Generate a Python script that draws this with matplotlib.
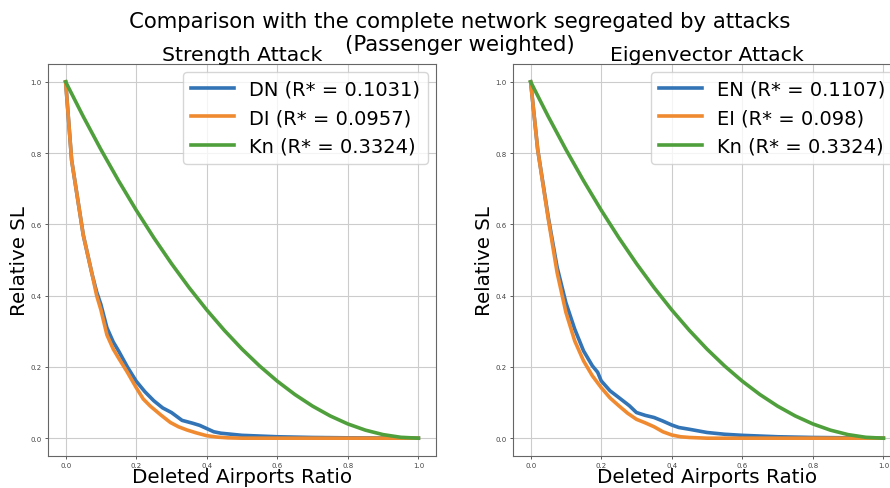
import matplotlib
matplotlib.use("Agg")
import matplotlib.pyplot as plt

# ---- data ----
x_dn = [0.0, 0.017, 0.05, 0.075, 0.088, 0.1, 0.117, 0.135, 0.15, 0.175, 0.2, 0.225, 0.25, 0.275, 0.3, 0.33, 0.36, 0.38, 0.4, 0.42, 0.44, 0.47, 0.5, 0.55, 0.6, 0.7, 0.8, 0.9, 1.0]
y_dn = [1.0, 0.78, 0.57, 0.46, 0.41, 0.375, 0.31, 0.27, 0.245, 0.20, 0.16, 0.13, 0.105, 0.085, 0.072, 0.05, 0.042, 0.036, 0.027, 0.018, 0.014, 0.011, 0.008, 0.006, 0.004, 0.002, 0.001, 0.0005, 0.0]

x_di = [0.0, 0.017, 0.05, 0.075, 0.088, 0.1, 0.117, 0.135, 0.15, 0.175, 0.2, 0.22, 0.24, 0.27, 0.297, 0.32, 0.344, 0.37, 0.4, 0.43, 0.46, 0.5, 0.6, 0.8, 1.0]
y_di = [1.0, 0.78, 0.57, 0.46, 0.40, 0.36, 0.29, 0.25, 0.225, 0.185, 0.142, 0.11, 0.09, 0.065, 0.044, 0.032, 0.023, 0.015, 0.007, 0.003, 0.001, 0.0, 0.0, 0.0, 0.0]

x_en = [0.0, 0.02, 0.05, 0.075, 0.1, 0.125, 0.15, 0.175, 0.19, 0.2, 0.225, 0.25, 0.28, 0.3, 0.325, 0.35, 0.375, 0.4, 0.42, 0.45, 0.5, 0.55, 0.6, 0.7, 0.8, 0.9, 1.0]
y_en = [1.0, 0.81, 0.62, 0.48, 0.38, 0.306, 0.245, 0.203, 0.185, 0.161, 0.133, 0.114, 0.091, 0.072, 0.064, 0.058, 0.048, 0.037, 0.03, 0.025, 0.016, 0.011, 0.008, 0.004, 0.002, 0.001, 0.0]

x_ei = [0.0, 0.02, 0.05, 0.075, 0.1, 0.125, 0.15, 0.175, 0.2, 0.225, 0.25, 0.275, 0.3, 0.325, 0.35, 0.375, 0.4, 0.425, 0.45, 0.5, 0.6, 0.8, 1.0]
y_ei = [1.0, 0.81, 0.615, 0.465, 0.353, 0.273, 0.217, 0.175, 0.142, 0.113, 0.091, 0.07, 0.053, 0.043, 0.032, 0.018, 0.009, 0.004, 0.002, 0.0, 0.0, 0.0, 0.0]

x_kn = [0.0, 0.05, 0.1, 0.15, 0.2, 0.25, 0.3, 0.35, 0.4, 0.45, 0.5, 0.55, 0.6, 0.65, 0.7, 0.75, 0.8, 0.85, 0.9, 0.95, 1.0]
y_kn = [1.0, 0.9025, 0.81, 0.7225, 0.64, 0.5625, 0.49, 0.4225, 0.36, 0.3025, 0.25, 0.2025, 0.16, 0.1225, 0.09, 0.0625, 0.04, 0.0225, 0.01, 0.0025, 0.0]

labels_left = ["DN (R* = 0.1031)", "DI (R* = 0.0957)", "Kn (R* = 0.3324)"]
labels_right = ["EN (R* = 0.1107)", "EI (R* = 0.098)", "Kn (R* = 0.3324)"]
titles = ["Strength Attack", "Eigenvector Attack"]
suptitle_lines = ["Comparison with the complete network segregated by attacks", "(Passenger weighted)"]

fig = plt.figure(figsize=(8.9, 4.89), dpi=100)
ax1 = fig.add_axes([48/890, 32/489, 388/890, 392/489])
ax2 = fig.add_axes([513/890, 32/489, 388/890, 392/489])

series = [
    (ax1, [(x_dn, y_dn), (x_di, y_di), (x_kn, y_kn)], labels_left, titles[0]),
    (ax2, [(x_en, y_en), (x_ei, y_ei), (x_kn, y_kn)], labels_right, titles[1]),
]
colors = ["#3274b5", "#f08a30", "#4fa03c"]
for ax, data, labels, title in series:
    for (xs, ys), lab, c in zip(data, labels, colors):
        ax.plot(xs, ys, color=c, lw=2.6, label=lab)
    ax.set_xlim(-0.05, 1.05)
    ax.set_ylim(-0.05, 1.05)
    ax.set_xticks([0.0, 0.2, 0.4, 0.6, 0.8, 1.0])
    ax.set_yticks([0.0, 0.2, 0.4, 0.6, 0.8, 1.0])
    ax.tick_params(labelsize=5, length=2.5, width=0.6, pad=2, colors="#444444")
    ax.grid(True, color="#cccccc", lw=0.8)
    for s in ax.spines.values():
        s.set_color("#666666")
    ax.set_xlabel("Deleted Airports Ratio", fontsize=14.3, labelpad=-1)
    ax.set_ylabel("Relative SL", fontsize=14.3, labelpad=1)
    ax.set_title(title, fontsize=14.7, pad=2)
    ax.legend(loc="upper right", fontsize=14, handlelength=2.2, borderaxespad=0.4)

fig.text(0.517, 1 - 22/489, suptitle_lines[0], fontsize=15.3, ha="center", va="center")
fig.text(0.517, 1 - 45/489, suptitle_lines[1], fontsize=15.3, ha="center", va="center")
fig.savefig("out.png", dpi=100)
